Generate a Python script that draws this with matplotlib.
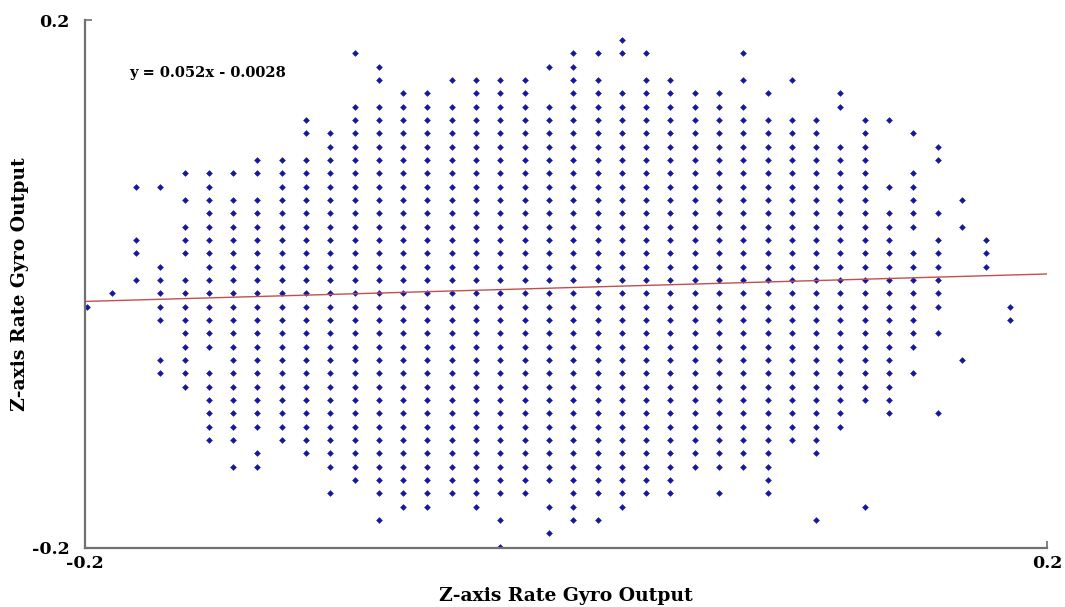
import numpy as np
import matplotlib
matplotlib.use("Agg")
import matplotlib.pyplot as plt

# quantised gyro levels (both axes share the same grid)
levels = np.round(-0.199 + 0.0101 * np.arange(39), 4)

# rows used by each column, row 0 = top level (0.185), row 38 = bottom (-0.199)
col_rows = [
    [20],
    [19],
    [11, 15, 16, 18],
    [11, 17, 18, 19, 20, 21, 24, 25],
    [10, 12, 14, 15, 16] + list(range(18, 27)),
    list(range(10, 24)) + list(range(25, 31)),
    [10] + list(range(12, 31)) + [32],
    [9, 10] + list(range(12, 30)) + [31, 32],
    list(range(9, 31)),
    [6, 7] + list(range(9, 32)),
    list(range(7, 33)) + [34],
    [1] + list(range(5, 34)),
    [2, 3] + list(range(5, 35)) + [36],
    list(range(4, 36)),
    list(range(4, 36)),
    [3] + list(range(5, 35)),
    list(range(3, 36)),
    list(range(3, 35)) + [36, 38],
    list(range(3, 35)),
    [2] + list(range(5, 34)) + [35, 37],
    list(range(1, 37)),
    [1] + list(range(3, 35)) + [36],
    [0, 1] + list(range(4, 36)),
    [1] + list(range(3, 35)),
    list(range(3, 35)),
    list(range(4, 33)),
    list(range(4, 33)) + [34],
    [1, 3] + list(range(5, 33)),
    [4] + list(range(6, 35)),
    [3] + list(range(6, 31)),
    list(range(6, 32)) + [36],
    [4, 5] + list(range(8, 30)),
    list(range(6, 28)) + [35],
    [6, 11] + list(range(13, 29)),
    [7, 10, 11, 12, 13, 14] + list(range(16, 24)) + [25],
    [8, 9, 13, 15, 16, 17, 18, 19, 20, 22, 28],
    [12, 14, 24],
    [15, 16, 17],
    [20, 21],
]

# linear fit shown on the chart
slope = 0.052
intercept = -0.0028

xs, ys = [], []
for c, rows in enumerate(col_rows):
    for r in rows:
        xs.append(levels[c])
        ys.append(levels[38 - r])

plt.rcParams['font.family'] = ['DejaVu Serif']

fig = plt.figure(figsize=(10.65, 6.07), dpi=100)
ax = fig.add_axes([0.0798, 0.0972, 0.9033, 0.8698])

ax.plot(xs, ys, linestyle='none', marker='D', markersize=3.4,
        color='#18189a', markeredgewidth=0)

fx = np.array([-0.2, 0.2])
ax.plot(fx, slope * fx + intercept, color='#c0504d', linewidth=1.0)

ax.set_xlim(-0.2, 0.2)
ax.set_ylim(-0.2, 0.2)
ax.set_xticks([-0.2, 0.2])
ax.set_yticks([-0.2, 0.2])
ax.set_xticklabels(['-0.2', '0.2'], fontweight='bold', fontsize=12.5)
ax.set_yticklabels(['-0.2', '0.2'], fontweight='bold', fontsize=12.5)
ax.tick_params(axis='both', direction='in', length=5, width=1.2, color='#707070')
ax.tick_params(axis='y', pad=11)
ax.tick_params(axis='x', pad=5)

for s in ['top', 'right']:
    ax.spines[s].set_visible(False)
for s in ['left', 'bottom']:
    ax.spines[s].set_color('#707070')
    ax.spines[s].set_linewidth(1.6)

ax.set_xlabel('Z-axis Rate Gyro Output', fontweight='bold', fontsize=13.5, labelpad=11)
ax.set_ylabel('Z-axis Rate Gyro Output', fontweight='bold', fontsize=13.5, labelpad=2)

ax.text(0.046, 0.892, 'y = 0.052x - 0.0028', transform=ax.transAxes,
        fontsize=10.5, fontweight='bold')

fig.savefig('out.png', dpi=100)
